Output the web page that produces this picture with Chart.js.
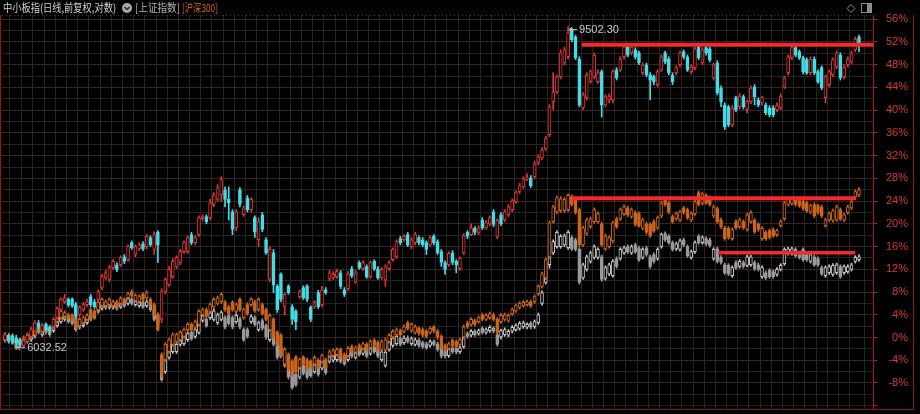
<!DOCTYPE html>
<html>
<head>
<meta charset="utf-8">
<script src="https://cdn.jsdelivr.net/npm/chart.js@4.4.1/dist/chart.umd.min.js"></script>
<style>
html, body { margin: 0; padding: 0; background: #000; }
#wrap { width: 920px; height: 414px; }
</style>
</head>
<body>
<div id="wrap"><canvas id="kline" width="920" height="414"></canvas></div>
<script>
// candles as [open, high, low, close], values in % (right axis)
const zxbCandles = [
[-0.4,0.9,-0.7,0.5],[0.4,0.7,-0.9,-0.5],[0.2,0.5,-1.1,-0.7],[0.0,0.4,-1.8,-0.9],[-0.4,-0.2,-1.6,-1.2],
[-1.4,-0.2,-1.6,-0.5],[-0.7,0.7,-0.9,0.4],[0.2,1.8,0.0,1.4],[1.1,3.0,0.9,2.6],[2.6,3.0,1.4,1.8],
[1.1,2.5,0.9,2.1],[2.3,2.6,1.1,1.4],[1.9,2.1,0.7,1.1],[1.9,3.5,1.6,3.2],[3.5,5.4,3.2,5.1],
[4.9,7.0,4.6,6.7],[6.3,7.6,6.0,7.0],[6.7,7.0,5.4,5.8],[6.7,7.0,5.3,5.6],[5.8,6.2,3.3,3.7],
[4.0,5.6,3.7,5.3],[4.9,6.2,4.6,5.8],[5.8,6.7,5.4,6.3],[7.2,7.6,5.4,5.8],[6.3,6.7,5.1,5.4],
[6.7,8.4,6.3,8.1],[8.8,11.1,8.4,10.7],[10.5,11.8,10.2,11.4],[10.2,12.7,9.8,12.3],[12.3,13.7,12.0,13.4],
[12.8,13.2,11.6,12.0],[12.8,14.4,12.5,14.1],[14.2,14.6,13.0,13.4],[13.7,16.3,13.4,16.0],[16.7,17.0,15.5,15.8],
[14.6,16.3,14.2,16.0],[15.6,16.7,15.3,16.3],[16.5,16.9,15.3,15.6],[16.0,18.1,15.6,17.8],[17.6,17.9,16.0,16.3],
[15.5,18.6,14.6,18.1],[18.5,18.8,13.2,16.3],[3.2,8.6,2.6,8.1],[8.1,10.5,7.7,10.2],[9.3,12.5,9.0,12.0],
[10.7,13.9,10.4,13.4],[12.5,14.4,12.1,14.1],[13.2,15.5,12.8,15.1],[15.1,17.0,14.8,16.7],[15.1,17.9,14.8,17.6],
[18.1,18.5,16.3,16.7],[16.7,17.9,16.3,17.6],[18.1,21.4,17.8,21.1],[20.9,21.6,20.6,21.3],[21.3,21.6,20.0,20.4],
[21.1,24.3,20.7,23.7],[23.4,25.5,23.0,25.1],[24.3,26.9,24.0,26.4],[25.1,28.3,23.9,27.8],[26.0,26.5,23.0,24.3],
[24.3,26.5,20.7,23.7],[22.1,22.5,18.1,19.0],[19.3,22.5,18.8,22.1],[26.0,26.4,23.0,23.4],[21.6,23.2,21.3,22.8],
[24.6,25.0,22.1,22.5],[22.5,24.6,22.1,24.3],[21.1,21.4,17.6,18.6],[17.2,21.1,16.0,20.4],[21.6,22.0,18.6,19.0],
[17.2,17.6,14.6,14.9],[10.2,16.0,9.8,15.5],[14.9,15.5,7.9,9.3],[9.0,9.3,4.4,4.9],[11.1,11.4,6.3,6.7],
[5.4,7.9,4.0,7.6],[9.0,9.3,7.6,7.9],[5.4,5.8,2.3,3.2],[4.6,4.9,1.4,2.8],[7.2,8.4,6.9,8.1],
[8.8,9.1,6.7,7.0],[9.0,9.3,6.3,6.7],[5.3,5.6,2.8,3.2],[5.4,6.5,5.1,6.2],[7.9,8.3,5.1,5.4],
[5.8,9.0,5.4,8.4],[8.4,8.8,7.6,7.9],[10.4,11.8,10.0,11.4],[10.5,11.6,10.2,11.1],[10.7,12.0,10.4,11.6],
[11.4,11.8,8.6,9.0],[8.4,8.8,7.2,7.6],[8.6,11.6,8.3,11.2],[12.1,12.5,10.5,10.9],[9.8,11.8,9.5,11.4],
[13.2,13.5,12.0,12.3],[12.1,13.5,11.8,13.2],[12.5,12.8,10.4,10.7],[10.7,13.5,10.4,13.2],[13.4,13.7,11.8,12.1],
[12.1,12.5,10.2,10.5],[10.5,12.3,10.2,12.0],[10.2,12.8,9.0,12.5],[12.1,13.5,11.8,13.2],[13.7,15.8,13.4,15.5],
[14.2,17.2,13.9,16.9],[17.4,17.8,16.3,16.7],[17.2,18.1,16.9,17.8],[18.1,18.5,16.0,16.3],[16.0,17.6,15.6,17.2],
[16.7,18.5,16.3,18.1],[17.6,17.9,16.3,16.7],[17.2,17.6,16.0,16.3],[16.7,17.0,14.6,15.5],[16.3,17.9,16.0,17.6],
[17.8,18.1,16.3,16.7],[16.9,17.2,14.6,14.9],[15.1,15.5,12.5,13.2],[13.2,13.5,11.1,12.0],[12.8,15.1,12.5,14.8],
[14.9,15.3,12.8,13.2],[13.4,13.7,11.4,12.8],[12.1,14.2,11.8,13.9],[14.9,18.3,14.6,17.9],[18.5,18.8,17.4,17.8],
[18.1,20.0,17.9,19.3],[19.2,19.5,18.1,18.5],[18.5,19.7,18.1,19.3],[20.7,21.1,19.0,19.3],[19.3,20.6,19.0,20.2],
[20.0,21.4,19.7,21.1],[22.1,22.5,19.5,19.9],[17.8,20.9,17.4,20.6],[21.6,22.0,19.7,20.0],[20.7,22.5,20.4,22.1],
[21.6,23.4,21.3,23.0],[22.5,24.4,22.1,24.1],[23.9,25.8,23.6,25.5],[25.7,27.1,25.3,26.7],[26.5,28.3,26.2,27.9],
[27.9,28.8,27.6,28.1],[28.1,28.5,26.4,26.7],[28.3,31.0,27.9,30.6],[30.8,32.2,30.4,31.8],[31.6,33.4,31.3,33.0],
[33.2,35.4,32.9,35.0],[35.7,41.0,35.3,40.6],[41.5,46.6,40.1,43.2],[43.2,46.2,42.9,45.9],[45.9,50.6,45.5,50.1],
[48.3,51.1,48.0,50.6],[49.4,54.7,49.0,53.6],[54.1,54.5,52.0,52.4],[52.9,53.2,48.9,49.2],[49.0,49.4,40.6,40.9],
[40.4,43.1,40.1,42.7],[42.2,46.6,41.8,46.2],[45.0,47.1,44.7,46.8],[45.9,50.1,45.5,49.7],[45.0,47.1,44.7,46.6],
[46.8,47.1,38.8,40.9],[40.9,42.7,40.6,42.4],[41.8,42.9,41.3,42.4],[41.8,47.1,41.3,46.8],[47.1,47.5,45.3,45.7],
[47.1,49.4,46.8,49.0],[49.4,51.5,49.0,51.1],[51.1,51.5,49.4,49.7],[50.1,51.5,49.7,51.1],[50.6,51.0,49.0,49.4],
[50.1,50.4,48.0,48.3],[46.6,48.3,46.2,48.0],[48.0,48.3,45.9,46.2],[46.2,46.6,41.8,45.3],[45.9,46.2,44.5,45.0],
[44.5,47.1,44.1,46.8],[47.1,49.7,46.8,49.4],[50.1,50.4,48.2,48.5],[49.0,49.4,46.2,46.6],[46.2,46.6,44.5,45.0],
[46.6,47.8,46.2,47.5],[48.0,50.4,47.6,50.1],[50.3,50.6,49.0,49.4],[49.4,49.7,46.8,47.1],[46.8,48.0,46.4,47.6],
[47.5,51.1,47.1,50.8],[51.1,51.5,48.9,49.2],[48.3,51.0,48.0,50.6],[51.0,51.3,49.7,50.1],[50.8,51.1,48.5,48.9],
[45.7,48.3,45.3,48.0],[48.3,48.7,42.7,43.1],[43.9,44.3,40.6,41.5],[40.9,41.3,36.6,37.1],[40.6,40.9,37.1,37.4],
[37.4,40.8,37.1,40.4],[42.2,42.5,39.7,40.1],[40.6,42.9,40.2,42.5],[42.4,42.7,40.2,40.6],[40.1,41.8,39.5,41.5],
[41.5,44.3,41.1,43.9],[44.1,44.5,40.9,42.4],[41.8,42.2,40.6,40.9],[41.3,42.5,40.9,42.2],[40.9,41.3,39.2,39.5],
[40.4,40.8,38.8,39.2],[40.4,40.8,38.8,39.2],[40.1,41.3,39.7,40.9],[40.4,42.9,40.1,42.4],[44.1,46.0,43.8,45.7],
[46.6,49.7,46.2,49.4],[49.2,51.5,48.9,51.0],[51.0,51.3,49.4,49.7],[50.3,50.6,48.9,49.2],[49.2,49.5,46.4,46.8],
[48.9,49.2,46.3,46.6],[46.6,49.4,46.2,49.0],[49.0,49.4,46.2,46.6],[46.8,47.1,44.7,45.0],[47.5,47.8,43.6,43.9],
[42.2,46.2,41.3,45.9],[44.5,47.1,44.1,46.8],[46.2,49.2,45.9,48.9],[47.6,50.4,47.3,50.1],[49.7,50.1,45.3,45.7],
[45.9,48.0,45.5,47.6],[48.0,49.4,47.6,49.0],[48.5,50.4,48.2,50.1],[50.6,52.9,50.3,52.5],[52.9,53.2,50.3,51.5]
];

const hs300Candles = [
[-0.4,0.7,-0.7,0.4],[0.2,0.5,-0.9,-0.5],[0.4,0.7,-1.1,-0.7],[-0.4,-0.1,-1.9,-1.6],[-0.4,-0.1,-1.5,-1.2],
[-1.1,0.3,-1.4,0.0],[-0.4,0.8,-0.7,0.5],[0.0,1.2,-0.3,0.9],[0.5,2.1,0.2,1.8],[2.3,2.6,1.1,1.4],
[1.1,2.2,0.8,1.9],[2.1,2.4,0.9,1.2],[1.8,2.1,0.6,0.9],[1.8,3.1,1.5,2.8],[2.8,4.3,2.5,4.0],
[3.5,4.9,3.2,4.6],[3.7,4.7,3.4,4.4],[4.0,4.3,3.2,3.5],[3.9,4.2,2.9,3.2],[3.5,3.8,1.5,1.8],
[2.1,3.5,1.8,3.2],[2.6,3.8,2.3,3.5],[3.2,4.2,2.9,3.9],[4.9,5.2,3.2,3.5],[4.6,4.9,3.4,3.7],
[4.9,6.5,4.6,6.2],[5.6,7.0,5.3,6.7],[5.6,6.6,5.3,6.3],[5.8,7.0,5.5,6.7],[5.6,6.6,5.3,6.3],
[6.3,6.6,5.1,5.4],[6.0,7.2,5.7,6.9],[6.7,7.0,5.9,6.2],[7.0,8.0,6.7,7.7],[8.1,8.4,7.1,7.4],
[6.5,7.7,6.2,7.4],[6.3,7.5,6.0,7.2],[7.6,7.9,6.4,6.7],[7.0,8.2,6.7,7.9],[6.7,7.0,5.5,5.8],
[5.8,6.1,3.7,4.0],[4.0,4.3,1.1,1.4],[-3.0,-2.7,-7.0,-6.5],[-3.9,-0.9,-4.2,-1.2],[-2.5,-0.1,-2.8,-0.4],
[-1.2,0.8,-1.5,0.5],[-0.7,0.8,-1.0,0.5],[-0.4,1.2,-0.7,0.9],[0.2,1.7,-0.1,1.4],[1.4,2.6,1.1,2.3],
[2.3,2.6,1.1,1.4],[1.8,3.1,1.5,2.8],[2.3,4.9,2.0,4.6],[4.0,5.2,3.7,4.9],[4.9,5.2,3.4,3.7],
[4.6,6.1,4.3,5.8],[5.4,7.0,5.1,6.7],[6.0,7.3,5.7,7.0],[6.3,7.9,6.0,7.6],[6.2,6.5,4.6,4.9],
[5.4,5.7,3.9,4.2],[6.2,6.5,4.6,4.9],[4.6,6.1,4.3,5.8],[6.7,7.0,4.6,4.9],[3.5,5.2,3.2,4.9],
[5.8,6.1,3.9,4.2],[5.8,7.0,5.5,6.7],[6.3,6.6,4.4,4.7],[4.9,7.0,4.6,6.7],[5.8,6.1,3.9,4.2],
[4.9,5.2,2.9,3.2],[1.4,4.2,1.1,3.9],[3.2,3.5,-0.3,0.0],[0.9,1.2,-1.5,-1.2],[0.4,0.7,-3.3,-3.0],
[-4.7,-1.8,-5.0,-2.1],[-3.0,-2.7,-5.9,-5.6],[-4.2,-3.9,-6.8,-6.5],[-3.5,-3.2,-6.3,-6.0],[-5.3,-3.6,-5.6,-3.9],
[-3.5,-3.2,-4.9,-4.6],[-3.9,-3.6,-5.7,-5.4],[-4.2,-3.9,-5.6,-5.3],[-4.7,-3.2,-5.0,-3.5],[-4.0,-3.7,-5.6,-5.3],
[-4.2,-2.9,-4.5,-3.2],[-3.9,-3.6,-5.6,-5.3],[-3.3,-2.2,-3.6,-2.5],[-3.2,-2.0,-3.5,-2.3],[-3.0,-1.8,-3.3,-2.1],
[-2.1,-1.8,-3.8,-3.5],[-3.0,-2.7,-4.2,-3.9],[-3.2,-1.6,-3.5,-1.9],[-1.6,-1.3,-2.8,-2.5],[-2.6,-1.5,-2.9,-1.8],
[-1.4,-1.1,-2.4,-2.1],[-1.9,-0.8,-2.2,-1.1],[-1.2,-0.9,-2.4,-2.1],[-1.8,-0.4,-2.1,-0.7],[-0.5,-0.2,-1.7,-1.4],
[-0.9,-0.6,-2.4,-2.1],[-2.1,-0.4,-2.4,-0.7],[-2.1,0.0,-2.4,-0.4],[-0.7,0.7,-1.0,0.4],[0.0,1.4,-0.3,1.1],
[0.5,1.7,0.2,1.4],[1.2,1.5,0.2,0.5],[1.1,2.2,0.8,1.9],[2.6,2.9,1.3,1.6],[1.2,2.6,0.9,2.3],
[0.9,2.2,0.6,1.9],[1.6,1.9,0.4,0.7],[1.4,1.7,0.1,0.4],[1.1,1.4,-0.1,0.2],[0.9,1.9,0.6,1.6],
[1.8,2.1,0.8,1.1],[1.1,1.4,-0.3,0.0],[0.2,0.5,-2.1,-1.8],[-1.4,-1.1,-2.4,-2.1],[-1.9,-0.8,-2.2,-1.1],
[-0.5,-0.2,-1.7,-1.4],[-0.7,-0.4,-1.9,-1.6],[-1.2,-0.1,-1.5,-0.4],[0.0,2.2,-0.3,1.9],[2.6,2.9,1.6,1.9],
[2.3,3.5,2.0,3.2],[3.0,3.3,2.0,2.3],[2.8,3.8,2.5,3.5],[4.0,4.3,2.9,3.2],[3.2,4.2,2.9,3.9],
[3.5,4.5,3.2,4.2],[4.0,4.3,2.9,3.2],[3.2,3.5,0.6,0.9],[2.8,4.2,2.5,3.9],[3.2,4.3,2.9,4.0],
[3.0,4.2,2.7,3.9],[4.2,5.2,3.9,4.9],[4.7,5.9,4.4,5.6],[5.3,6.3,5.0,6.0],[5.6,6.5,5.3,6.2],
[5.8,6.6,5.5,6.3],[6.3,6.6,5.3,5.6],[6.3,7.5,6.0,7.2],[7.7,9.3,7.4,9.0],[9.0,11.5,8.7,11.2],
[10.5,14.0,10.2,13.7],[14.2,20.5,13.9,20.2],[20.4,23.3,20.1,23.0],[22.1,24.9,21.8,24.6],[22.3,24.8,22.0,24.4],
[22.3,24.6,22.0,24.3],[22.5,25.3,22.2,25.0],[24.8,25.1,23.1,23.4],[24.3,24.6,21.7,22.0],[22.5,22.8,16.0,16.3],
[16.3,19.6,16.0,19.3],[18.3,21.0,18.0,20.7],[19.5,21.2,19.2,20.9],[20.4,22.8,20.1,22.5],[20.4,22.1,20.1,21.8],
[20.0,20.3,16.0,16.3],[15.6,18.2,15.3,17.9],[16.0,17.9,15.7,17.6],[17.0,20.5,16.7,20.2],[20.9,21.2,19.2,19.5],
[20.9,22.8,20.6,22.5],[21.8,23.3,21.5,23.0],[22.8,23.1,21.3,21.6],[21.3,22.8,21.0,22.5],[22.0,22.3,19.6,19.9],
[21.8,22.1,19.4,19.7],[19.2,21.0,18.9,20.7],[20.0,20.3,18.2,18.5],[19.9,20.2,17.6,17.9],[20.4,20.7,18.5,18.8],
[19.3,21.4,19.0,21.1],[21.4,24.0,21.1,23.7],[24.4,24.7,23.1,23.4],[23.7,24.0,21.8,22.1],[21.3,21.6,20.1,20.4],
[20.9,22.1,20.6,21.8],[20.7,22.4,20.4,22.1],[22.8,23.1,21.7,22.0],[22.5,22.8,20.8,21.1],[20.7,22.1,20.4,21.8],
[21.8,24.2,21.5,23.9],[25.5,25.8,23.1,23.4],[23.6,25.6,23.3,25.3],[25.0,25.3,23.4,23.7],[24.6,24.9,23.1,23.4],
[21.4,23.3,21.1,23.0],[22.7,23.0,20.1,20.4],[20.7,21.0,19.2,19.5],[19.3,19.6,17.1,17.4],[19.2,19.5,17.3,17.6],
[17.4,19.3,17.1,19.0],[20.4,20.7,19.0,19.3],[19.5,21.0,19.2,20.7],[20.4,20.7,19.0,19.3],[19.0,21.9,18.7,21.6],
[20.4,22.3,20.1,22.0],[20.6,20.9,18.3,18.6],[19.9,20.2,18.7,19.0],[17.4,19.5,17.1,19.2],[18.5,18.8,17.1,17.4],
[18.8,19.1,17.3,17.6],[19.0,19.3,17.6,17.9],[18.1,19.1,17.8,18.8],[19.7,20.7,19.4,20.4],[20.9,24.0,20.6,23.7],
[23.4,24.6,23.1,24.3],[23.6,24.7,23.3,24.4],[24.4,24.7,23.1,23.4],[24.1,24.4,22.9,23.2],[23.9,24.2,22.4,22.7],
[23.7,24.0,22.0,22.3],[22.1,23.5,21.8,23.2],[23.4,23.7,21.1,21.4],[23.2,23.5,21.7,22.0],[23.0,23.3,21.1,21.4],
[19.7,21.0,19.4,20.7],[20.7,22.1,20.4,21.8],[20.6,22.6,20.3,22.3],[20.7,23.3,20.4,23.0],[22.5,22.8,20.6,20.9],
[20.7,21.9,20.4,21.6],[22.0,23.3,21.7,23.0],[22.8,24.2,22.5,23.9],[24.8,26.0,24.5,25.7],[25.1,26.4,24.8,26.0]
];

const szCandles = [
[-0.5,0.5,-0.8,0.2],[0.0,0.3,-1.0,-0.7],[0.0,0.3,-1.2,-0.9],[-0.5,-0.2,-2.1,-1.8],[-0.5,-0.2,-1.7,-1.4],
[-1.2,-0.1,-1.5,-0.4],[-0.7,0.5,-1.0,0.2],[-0.4,0.8,-0.7,0.5],[0.2,1.5,-0.1,1.2],[1.8,2.1,0.6,0.9],
[0.5,1.7,0.2,1.4],[1.6,1.9,0.6,0.9],[1.2,1.5,0.2,0.5],[1.2,2.4,0.9,2.1],[2.1,3.5,1.8,3.2],
[2.8,4.0,2.5,3.7],[3.2,4.0,2.9,3.7],[3.5,3.8,2.5,2.8],[3.3,3.6,2.2,2.5],[2.8,3.1,1.1,1.4],
[1.8,2.9,1.5,2.6],[2.1,3.3,1.8,3.0],[2.6,3.8,2.3,3.5],[4.4,4.7,2.9,3.2],[4.4,4.7,3.2,3.5],
[4.6,5.9,4.3,5.6],[5.1,6.3,4.8,6.0],[5.3,6.3,5.0,6.0],[5.3,6.5,5.0,6.2],[5.3,6.3,5.0,6.0],
[6.0,6.3,4.8,5.1],[5.4,6.5,5.1,6.2],[6.2,6.5,5.3,5.6],[6.0,7.2,5.7,6.9],[6.7,7.0,5.7,6.0],
[5.8,6.8,5.5,6.5],[5.6,6.6,5.3,6.3],[6.2,6.5,5.1,5.4],[5.6,6.6,5.3,6.3],[6.2,6.5,4.6,4.9],
[4.9,5.2,2.9,3.2],[4.0,4.3,2.0,2.3],[-3.9,-3.6,-7.7,-7.4],[-6.0,-2.2,-6.3,-2.5],[-3.5,-0.9,-3.8,-1.2],
[-2.5,-0.4,-2.8,-0.7],[-2.5,-0.9,-2.8,-1.2],[-1.2,0.3,-1.5,0.0],[-1.1,0.7,-1.4,0.4],[-0.4,1.0,-0.7,0.7],
[0.9,1.2,-0.5,-0.2],[0.2,1.7,-0.1,1.4],[0.9,3.5,0.6,3.2],[3.0,4.2,2.7,3.9],[3.2,3.5,1.8,2.1],
[3.5,4.7,3.2,4.4],[3.2,5.0,2.9,4.7],[2.6,4.3,2.3,4.0],[3.2,4.7,2.9,4.4],[3.5,3.8,1.5,1.8],
[3.9,4.2,2.2,2.5],[3.5,3.8,1.5,1.8],[2.8,4.2,2.5,3.9],[3.3,3.6,1.5,1.8],[1.4,1.7,-0.7,-0.4],
[1.4,1.7,-0.1,0.2],[2.8,4.0,2.5,3.7],[3.5,3.8,2.0,2.3],[1.4,2.9,1.1,2.6],[3.0,3.3,1.3,1.6],
[2.1,2.4,-0.3,0.0],[-0.4,1.7,-0.7,1.4],[1.1,1.4,-1.5,-1.2],[-0.7,-0.4,-3.8,-3.5],[-1.6,-1.3,-3.6,-3.3],
[-4.9,-2.2,-5.2,-2.5],[-4.7,-4.4,-7.3,-7.0],[-6.0,-5.7,-9.1,-8.8],[-6.5,-6.2,-8.6,-8.3],[-7.0,-5.0,-7.3,-5.3],
[-4.9,-4.6,-6.6,-6.3],[-5.3,-5.0,-7.3,-7.0],[-5.4,-5.1,-7.0,-6.7],[-6.0,-4.4,-6.3,-4.7],[-4.9,-4.6,-6.8,-6.5],
[-5.4,-3.7,-5.7,-4.0],[-4.7,-4.4,-6.5,-6.2],[-4.2,-2.9,-4.5,-3.2],[-4.0,-2.7,-4.3,-3.0],[-3.9,-2.7,-4.2,-3.0],
[-2.8,-2.5,-4.5,-4.2],[-3.5,-3.2,-4.9,-4.6],[-3.9,-2.5,-4.2,-2.8],[-2.3,-2.0,-3.6,-3.3],[-3.5,-2.2,-3.8,-2.5],
[-2.1,-1.8,-3.3,-3.0],[-2.8,-1.5,-3.1,-1.8],[-2.1,-1.8,-3.6,-3.3],[-2.8,-1.3,-3.1,-1.6],[-1.6,-1.3,-2.8,-2.5],
[-2.1,-1.8,-3.6,-3.3],[-3.9,-2.2,-4.2,-2.5],[-4.9,-2.3,-5.2,-2.6],[-2.1,-0.4,-2.4,-0.7],[-1.4,0.3,-1.7,0.0],
[-1.1,0.5,-1.4,0.2],[-0.2,0.1,-1.5,-1.2],[-0.9,0.3,-1.2,0.0],[0.0,0.3,-1.0,-0.7],[-1.1,0.1,-1.4,-0.2],
[-1.2,-0.1,-1.5,-0.4],[-0.5,-0.2,-1.7,-1.4],[-0.9,-0.6,-1.9,-1.6],[-1.1,-0.8,-2.1,-1.8],[-1.4,-0.4,-1.7,-0.7],
[-0.7,-0.4,-1.5,-1.2],[-1.1,-0.8,-2.4,-2.1],[-1.6,-1.3,-3.6,-3.3],[-2.3,-2.0,-3.6,-3.3],[-3.2,-1.8,-3.5,-2.1],
[-1.8,-1.5,-2.8,-2.5],[-1.9,-1.6,-2.9,-2.6],[-2.5,-1.5,-2.8,-1.8],[-1.6,0.5,-1.9,0.2],[0.7,1.0,-0.1,0.2],
[0.4,1.4,0.1,1.1],[1.1,1.4,0.2,0.5],[0.7,1.5,0.4,1.2],[1.6,1.9,0.6,0.9],[0.9,1.7,0.6,1.4],
[1.2,2.1,0.9,1.8],[1.6,1.9,0.8,1.1],[0.5,0.8,-1.5,-1.2],[0.0,1.5,-0.3,1.2],[0.5,1.7,0.2,1.4],
[0.4,1.4,0.1,1.1],[1.1,2.1,0.8,1.8],[1.4,2.4,1.1,2.1],[1.6,2.8,1.3,2.5],[1.9,2.9,1.6,2.6],
[1.8,2.6,1.5,2.3],[2.5,2.8,1.5,1.8],[1.9,3.1,1.6,2.8],[2.6,4.3,2.3,4.0],[6.0,8.2,5.7,7.9],
[9.7,13.5,9.4,13.2],[12.8,17.6,12.2,16.5],[14.9,17.2,14.6,16.9],[16.0,18.8,15.7,18.5],[16.0,18.1,15.7,17.8],
[16.3,18.2,16.0,17.9],[15.8,18.8,15.5,18.5],[17.6,17.9,15.3,15.6],[17.2,17.5,15.2,15.5],[15.5,15.8,9.4,9.7],
[10.5,13.1,10.2,12.8],[12.0,14.5,11.7,14.2],[13.4,15.2,13.1,14.9],[14.1,16.3,13.8,16.0],[14.1,15.8,13.8,15.5],
[14.2,14.5,9.9,10.2],[10.4,12.6,10.1,12.3],[11.2,13.1,10.9,12.8],[10.9,13.7,10.6,13.4],[13.9,14.2,12.2,12.5],
[13.9,15.8,13.6,15.5],[14.9,16.1,14.6,15.8],[16.0,16.3,14.8,15.1],[14.9,16.3,14.6,16.0],[16.3,16.6,14.8,15.1],
[15.8,16.1,13.4,13.7],[14.1,15.8,13.8,15.5],[15.8,16.1,14.3,14.6],[14.2,14.5,12.2,12.5],[14.6,14.9,13.1,13.4],
[13.9,15.8,13.6,15.5],[16.0,18.4,15.7,18.1],[18.3,18.6,16.9,17.2],[17.8,18.1,16.4,16.7],[16.7,17.0,15.2,15.5],
[15.6,16.8,15.3,16.5],[15.5,17.3,15.2,17.0],[17.2,17.5,16.0,16.3],[16.0,16.3,14.1,14.4],[14.1,15.4,13.8,15.1],
[15.1,17.0,14.8,16.7],[17.8,18.1,16.4,16.7],[16.7,17.9,16.4,17.6],[17.4,17.7,16.2,16.5],[17.2,17.5,15.9,16.2],
[13.9,15.8,13.6,15.5],[15.6,15.9,13.1,13.4],[14.1,14.4,12.9,13.2],[12.8,13.1,11.1,11.4],[12.7,13.0,10.9,11.2],
[10.9,12.6,10.6,12.3],[13.2,13.5,12.0,12.3],[12.5,13.7,12.2,13.4],[13.2,13.5,12.2,12.5],[12.7,14.5,12.4,14.2],
[12.8,14.5,12.5,14.2],[13.2,13.5,11.8,12.1],[12.8,13.1,11.7,12.0],[10.7,12.6,10.4,12.3],[11.4,11.7,10.2,10.5],
[11.8,12.1,10.4,10.7],[11.6,11.9,10.4,10.7],[11.1,12.3,10.8,12.0],[12.0,13.0,11.7,12.7],[13.0,15.8,12.7,15.5],
[14.8,15.9,14.5,15.6],[14.8,15.9,14.5,15.6],[15.5,15.8,14.1,14.4],[14.6,14.9,13.8,14.1],[15.5,15.8,13.4,13.7],
[14.6,14.9,13.4,13.7],[13.4,14.9,13.1,14.6],[14.2,14.5,12.5,12.8],[13.9,14.2,12.5,12.8],[12.3,12.6,10.9,11.2],
[10.9,12.6,10.6,12.3],[11.4,12.8,11.1,12.5],[11.1,13.0,10.8,12.7],[11.4,13.1,11.1,12.8],[12.5,12.8,10.4,10.7],
[11.4,12.8,11.1,12.5],[11.6,12.8,11.3,12.5],[12.0,13.1,11.7,12.8],[13.4,14.4,13.1,14.1],[13.7,14.6,13.4,14.2]
];

// drawn red level lines: value, start index, end index
const levelValues = [51.5, 24.5, 14.9];
const levelFrom = [154.7, 152.0, 191.2];
const levelTo = [232.75, 228.2, 228.0];

// marked extremes of the main index
const highMark = { index: 151, label: "9502.30" };
const lowMark = { index: 3, label: "6032.52" };

const yMin = -12.58;
const yMax = 56.75;
const xMin = -0.8;
const xMax = 232.75;

const RED = "#e23434";
const CYAN = "#42dce6";
const ORANGE = "#cc6419";
const GREY_UP = "#c4c4c4";
const GREY_DOWN = "#9a9a9a";
const LEVEL = "#f5282d";
const DOT_RED = "#8c1c1c";

function isUp(c) { return c[3] >= c[0]; }

function candleSets(candles, upColor, downColor, order) {
    return [
        {
            type: "bar",
            data: candles.map((c, i) => ({ x: i, y: [c[2], c[1]] })),
            backgroundColor: candles.map(c => isUp(c) ? upColor : downColor),
            borderWidth: 0,
            barThickness: 1,
            grouped: false,
            order: order + 1
        },
        {
            type: "bar",
            data: candles.map((c, i) => ({ x: i, y: [c[0], c[3]] })),
            backgroundColor: candles.map(c => isUp(c) ? "#000000" : downColor),
            borderColor: candles.map(c => isUp(c) ? upColor : downColor),
            borderWidth: 1,
            borderSkipped: false,
            barThickness: 3,
            minBarLength: 1,
            grouped: false,
            order: order
        }
    ];
}

function levelSets() {
    return levelValues.map((v, k) => ({
        type: "line",
        data: [{ x: levelFrom[k], y: v }, { x: levelTo[k], y: v }],
        borderColor: LEVEL,
        borderWidth: k === 2 ? 3.5 : 4,
        pointRadius: 0,
        borderCapStyle: "butt",
        order: 0
    }));
}

function fitText(ctx, text, x, y, width) {
    const w = ctx.measureText(text).width;
    ctx.save();
    ctx.translate(x, y);
    ctx.scale(Math.min(1, width / w), 1);
    ctx.fillText(text, 0, 0);
    ctx.restore();
}

function noPad(scale) {
    scale.paddingTop = 0;
    scale.paddingBottom = 0;
}

const overlay = {
    id: "overlay",
    beforeDatasetsDraw(chart) {
        // dotted top edge of the plot
        const ctx = chart.ctx;
        const a = chart.chartArea;
        ctx.save();
        ctx.strokeStyle = DOT_RED;
        ctx.setLineDash([1, 3]);
        ctx.beginPath();
        ctx.moveTo(a.left, a.top + 0.5);
        ctx.lineTo(a.right, a.top + 0.5);
        ctx.stroke();
        ctx.restore();
    },
    afterDraw(chart) {
        const ctx = chart.ctx;
        const xs = chart.scales.x;
        const ys = chart.scales.y;
        ctx.save();

        // header
        ctx.textBaseline = "middle";
        ctx.font = "11px 'Noto Sans CJK SC', sans-serif";
        ctx.fillStyle = "#d2d2d2";
        fitText(ctx, "中小板指(日线,前复权,对数)", 3, 8, 113);
        ctx.fillStyle = "#a8a8a8";
        ctx.beginPath();
        ctx.arc(127, 8, 5, 0, Math.PI * 2);
        ctx.fill();
        ctx.strokeStyle = "#2a2a2a";
        ctx.lineWidth = 1.5;
        ctx.beginPath();
        ctx.moveTo(124.5, 7);
        ctx.lineTo(127, 9.5);
        ctx.lineTo(129.5, 7);
        ctx.stroke();
        ctx.fillStyle = "#b4b4b4";
        fitText(ctx, "[上证指数]", 135, 8, 45);
        ctx.fillStyle = "#d2691e";
        fitText(ctx, "[沪深300]", 182, 8, 36);

        // top-right icons
        ctx.strokeStyle = "#8c8c8c";
        ctx.lineWidth = 1;
        ctx.beginPath();
        ctx.moveTo(851, 4.5);
        ctx.lineTo(855, 8.5);
        ctx.lineTo(851, 12.5);
        ctx.lineTo(847, 8.5);
        ctx.closePath();
        ctx.stroke();
        ctx.strokeRect(861.5, 3.5, 10, 9);
        ctx.fillStyle = "#8c8c8c";
        ctx.fillRect(867, 4, 4, 8);

        // high / low marks
        ctx.font = "11px 'Liberation Sans', sans-serif";
        ctx.fillStyle = "#c8c8c8";
        ctx.strokeStyle = "#c8c8c8";
        const marks = [
            { m: highMark, v: zxbCandles[highMark.index][1] },
            { m: lowMark, v: zxbCandles[lowMark.index][2] }
        ];
        marks.forEach(({ m, v }) => {
            const px = xs.getPixelForValue(m.index);
            const py = ys.getPixelForValue(v) + (m === highMark ? 3 : 0);
            ctx.beginPath();
            ctx.moveTo(px + 1, py);
            ctx.lineTo(px + 9, py);
            ctx.moveTo(px + 1, py);
            ctx.lineTo(px + 4, py - 2.5);
            ctx.moveTo(px + 1, py);
            ctx.lineTo(px + 4, py + 2.5);
            ctx.stroke();
            ctx.fillText(m.label, px + 11, py + 0.5);
        });

        // frame
        ctx.strokeStyle = "#8a1818";
        ctx.lineWidth = 1;
        ctx.beginPath();
        ctx.moveTo(913.5, 15);
        ctx.lineTo(913.5, 409.5);
        ctx.lineTo(0.5, 409.5);
        ctx.lineTo(0.5, 15);
        ctx.stroke();
        ctx.restore();
    }
};

const datasets = [
    ...levelSets(),
    ...candleSets(zxbCandles, RED, CYAN, 2),
    ...candleSets(hs300Candles, ORANGE, ORANGE, 4),
    ...candleSets(szCandles, GREY_UP, GREY_DOWN, 6)
];

new Chart(document.getElementById("kline"), {
    type: "bar",
    data: { datasets },
    options: {
        responsive: false,
        animation: false,
        devicePixelRatio: 1,
        layout: { padding: { top: 15, left: 2, right: 12, bottom: 5 } },
        plugins: { legend: { display: false }, tooltip: { enabled: false } },
        scales: {
            x: {
                type: "linear",
                min: xMin,
                max: xMax,
                offset: false,
                ticks: { display: false, stepSize: 3, padding: 0 },
                grid: { color: "#242424", drawTicks: false },
                border: { display: true, color: "#8a1818" },
                afterFit(scale) { scale.height = 0; }
            },
            y: {
                position: "right",
                min: yMin,
                max: yMax,
                ticks: {
                    stepSize: 2,
                    autoSkip: false,
                    includeBounds: false,
                    color: "#d23a3a",
                    font: { family: "'Liberation Sans', sans-serif", size: 11 },
                    crossAlign: "far",
                    padding: 2,
                    callback: v => (Math.abs(v % 4) < 1e-6 && v >= -8 ? v + "%" : "")
                },
                grid: {
                    color: "#242424",
                    tickLength: 4,
                    tickColor: c => (c.tick && Math.abs(c.tick.value % 4) < 1e-6 ? "#c02020" : "rgba(0,0,0,0)")
                },
                border: { color: "#a01c1c" },
                afterFit(scale) { scale.width = 35; noPad(scale); }
            },
            y2: {
                position: "left",
                min: yMin,
                max: yMax,
                ticks: { display: false, stepSize: 4, autoSkip: false, includeBounds: false },
                grid: {
                    drawTicks: false,
                    color: c => (c.tick && c.tick.value < -10 ? "rgba(0,0,0,0)" : DOT_RED)
                },
                border: { display: false, dash: [1, 3] },
                afterFit(scale) { scale.width = 0; noPad(scale); }
            }
        }
    },
    plugins: [overlay]
});
</script>
</body>
</html>
